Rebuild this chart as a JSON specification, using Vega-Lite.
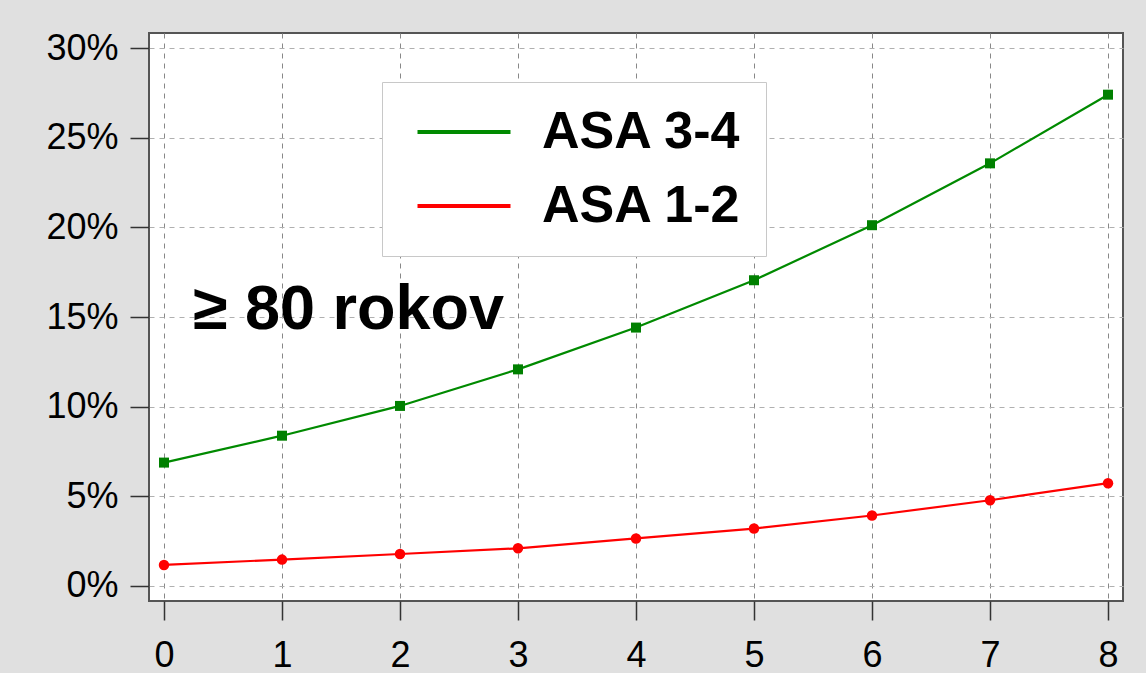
{
  "$schema": "https://vega.github.io/schema/vega-lite/v6.json",
  "autosize": "none",
  "width": 974,
  "height": 568,
  "padding": {"left": 149, "top": 33, "right": 23, "bottom": 72},
  "background": "#e0e0e0",
  "config": {
    "view": {"fill": "white", "stroke": "#555555", "strokeWidth": 2},
    "font": "Liberation Sans"
  },
  "datasets": {
    "series": [
      {"x": 0, "pct": 6.88, "group": "ASA 3-4"},
      {"x": 1, "pct": 8.38, "group": "ASA 3-4"},
      {"x": 2, "pct": 10.04, "group": "ASA 3-4"},
      {"x": 3, "pct": 12.08, "group": "ASA 3-4"},
      {"x": 4, "pct": 14.41, "group": "ASA 3-4"},
      {"x": 5, "pct": 17.05, "group": "ASA 3-4"},
      {"x": 6, "pct": 20.12, "group": "ASA 3-4"},
      {"x": 7, "pct": 23.57, "group": "ASA 3-4"},
      {"x": 8, "pct": 27.4, "group": "ASA 3-4"},
      {"x": 0, "pct": 1.17, "group": "ASA 1-2"},
      {"x": 1, "pct": 1.47, "group": "ASA 1-2"},
      {"x": 2, "pct": 1.78, "group": "ASA 1-2"},
      {"x": 3, "pct": 2.1, "group": "ASA 1-2"},
      {"x": 4, "pct": 2.65, "group": "ASA 1-2"},
      {"x": 5, "pct": 3.2, "group": "ASA 1-2"},
      {"x": 6, "pct": 3.93, "group": "ASA 1-2"},
      {"x": 7, "pct": 4.78, "group": "ASA 1-2"},
      {"x": 8, "pct": 5.73, "group": "ASA 1-2"}
    ],
    "note": [{"label": "≥ 80 rokov"}]
  },
  "layer": [
    {
      "data": {"name": "series"},
      "mark": {"type": "line", "strokeWidth": 2.2},
      "encoding": {
        "x": {
          "field": "x", "type": "quantitative",
          "scale": {"domain": [-0.127, 8.127], "nice": false, "zero": false},
          "axis": {
            "title": null, "values": [0,1,2,3,4,5,6,7,8], "format": "d",
            "labelFontSize": 36, "labelColor": "black", "labelPadding": 18,
            "tickSize": 19, "tickColor": "#333333", "tickWidth": 1.5,
            "domain": false,
            "grid": true, "gridColor": "#888888", "gridDash": [5, 5], "gridWidth": 1
          }
        },
        "y": {
          "field": "pct", "type": "quantitative",
          "scale": {"domain": [-0.84, 30.84], "nice": false, "zero": false},
          "axis": {
            "title": null, "values": [0,5,10,15,20,25,30],
            "labelExpr": "datum.value + '%'",
            "labelFontSize": 36, "labelColor": "black", "labelPadding": 12,
            "tickSize": 19, "tickColor": "#333333", "tickWidth": 1.5,
            "domain": false,
            "grid": true, "gridColor": "#b0b0b0", "gridDash": [5, 5], "gridWidth": 1
          }
        },
        "color": {
          "field": "group", "type": "nominal",
          "scale": {"domain": ["ASA 3-4", "ASA 1-2"], "range": ["#008a00", "#ff0000"]},
          "legend": {
            "title": null, "orient": "none", "legendX": 233, "legendY": 49,
            "fillColor": "white", "strokeColor": "#c8c8c8",
            "padding": 24, "symbolType": "M-2,0H2", "symbolSize": 2162,
            "symbolStrokeWidth": 4, "symbolOffset": 32,
            "labelFontSize": 52, "labelFontWeight": "bold", "labelColor": "black",
            "labelOffset": 52, "rowPadding": 22, "labelLimit": 400
          }
        }
      }
    },
    {
      "data": {"name": "series"},
      "transform": [{"filter": "datum.group === 'ASA 3-4'"}],
      "mark": {"type": "point", "shape": "square", "filled": true, "size": 100, "opacity": 1, "color": "#008000"},
      "encoding": {
        "x": {"field": "x", "type": "quantitative"},
        "y": {"field": "pct", "type": "quantitative"}
      }
    },
    {
      "data": {"name": "series"},
      "transform": [{"filter": "datum.group === 'ASA 1-2'"}],
      "mark": {"type": "point", "shape": "circle", "filled": true, "size": 110, "opacity": 1, "color": "#ff0000"},
      "encoding": {
        "x": {"field": "x", "type": "quantitative"},
        "y": {"field": "pct", "type": "quantitative"}
      }
    },
    {
      "data": {"name": "note"},
      "mark": {"type": "text", "fontSize": 63, "fontWeight": "bold", "align": "left", "baseline": "alphabetic", "color": "black"},
      "encoding": {
        "x": {"datum": 0.245, "type": "quantitative"},
        "y": {"datum": 14.33, "type": "quantitative"},
        "text": {"field": "label", "type": "nominal"}
      }
    }
  ]
}
